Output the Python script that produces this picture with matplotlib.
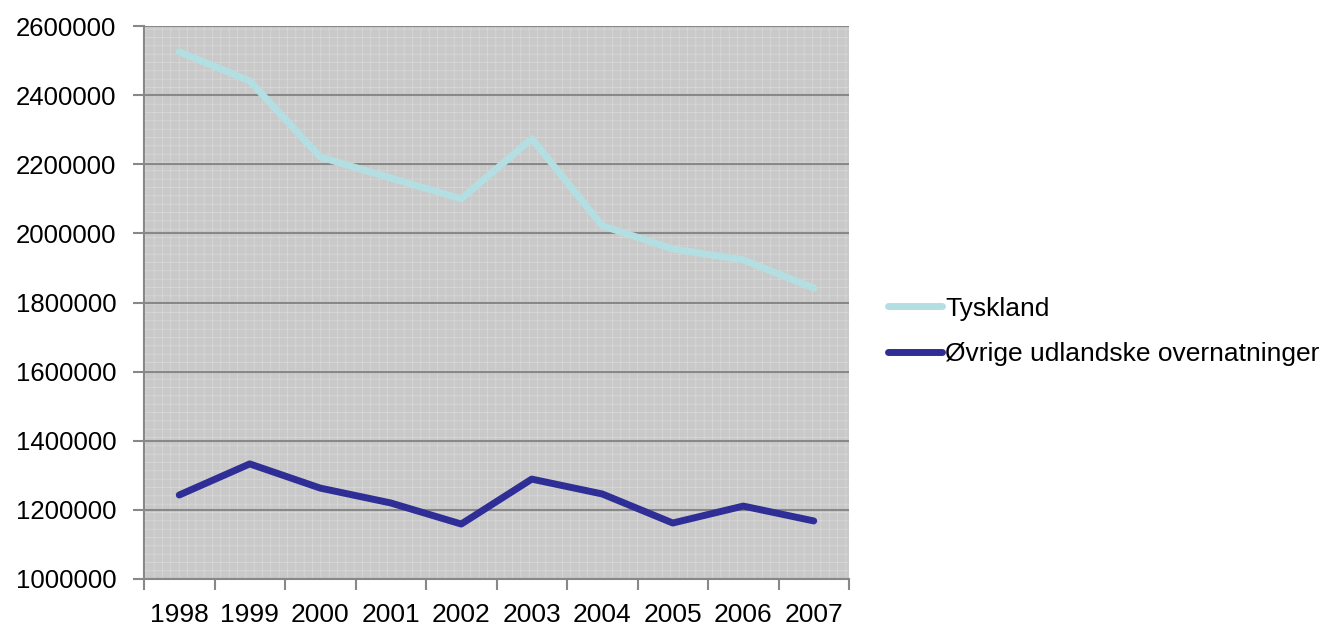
import matplotlib
matplotlib.use("Agg")
import matplotlib.pyplot as plt
import numpy as np

# ── Data ──────────────────────────────────────────────────────────────────────
years = ["1998", "1999", "2000", "2001", "2002", "2003", "2004", "2005", "2006", "2007"]
tyskland = [2525000, 2441000, 2221000, 2160000, 2100000, 2274000, 2022000, 1955000, 1923000, 1842000]
ovrige = [1243000, 1333000, 1263000, 1220000, 1159000, 1289000, 1246000, 1162000, 1211000, 1168000]
y_ticks = [1000000, 1200000, 1400000, 1600000, 1800000, 2000000, 2200000, 2400000, 2600000]

plt.rcParams["font.family"] = ["Liberation Sans", "DejaVu Sans"]
plt.rcParams["hatch.linewidth"] = 0.5

fig = plt.figure(figsize=(13.28, 6.31), dpi=100)
ax = fig.add_axes([144 / 1328, 1 - 579 / 631, 705 / 1328, 553 / 631])

# grey dotted-pattern plot area
ax.set_facecolor("#c9c9c9")
ax.patch.set_hatch("++")
ax.patch.set_edgecolor("#d9d9d9")
ax.patch.set_linewidth(0)

x = np.arange(len(years))
ax.plot(x, tyskland, color="#b4dfe2", linewidth=5, solid_capstyle="round",
        label="Tyskland", zorder=3)
ax.plot(x, ovrige, color="#2e2e96", linewidth=5, solid_capstyle="round",
        label="Øvrige udlandske overnatninger", zorder=3)

ax.set_xlim(-0.5, len(years) - 0.5)
ax.set_ylim(1000000, 2600000)
ax.set_yticks(y_ticks)
ax.set_yticklabels([str(v) for v in y_ticks])
ax.yaxis.grid(True, color="#888888", linewidth=1.5)
ax.set_axisbelow(True)

# category labels centred, tick marks between categories
ax.set_xticks(np.arange(-0.5, len(years), 1.0))
ax.set_xticklabels([])
ax.set_xticks(x, minor=True)
ax.set_xticklabels(years, minor=True)
ax.tick_params(axis="x", which="minor", length=0, pad=17, labelsize=19)
ax.tick_params(axis="x", which="major", length=8, width=1.5, color="#888888")
ax.tick_params(axis="y", length=8, width=1.5, color="#888888", labelsize=18.5, pad=12)

for s in ["top", "right"]:
    ax.spines[s].set_visible(False)
for s in ["left", "bottom"]:
    ax.spines[s].set_color("#888888")
    ax.spines[s].set_linewidth(1.5)

ax.legend(loc="center left", bbox_to_anchor=(1.022, 0.448), frameon=False,
          fontsize=19, handlelength=2.05, handletextpad=0.1, labelspacing=0.8)

fig.savefig("out.png", dpi=100)
